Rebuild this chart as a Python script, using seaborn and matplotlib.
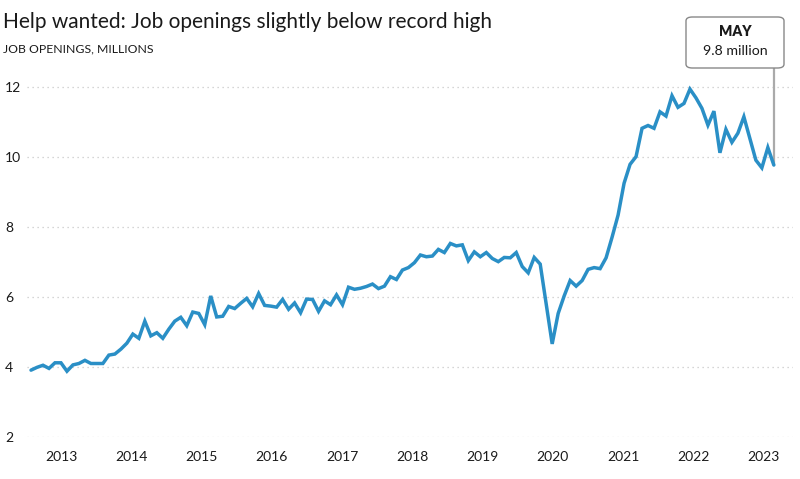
import numpy as np
import pandas as pd
import matplotlib
matplotlib.use("Agg")
import matplotlib.pyplot as plt
from matplotlib.patches import FancyBboxPatch
import seaborn as sns

# job openings, millions, monthly Jan 2013 .. May 2023
openings = [
    3.91, 3.99, 4.05, 3.96, 4.12, 4.12, 3.88, 4.06, 4.10, 4.19, 4.10, 4.10,
    4.10, 4.34, 4.37, 4.51, 4.68, 4.94, 4.82, 5.31, 4.89, 4.98, 4.82, 5.08,
    5.31, 5.42, 5.18, 5.57, 5.53, 5.21, 6.03, 5.43, 5.45, 5.73, 5.67, 5.82,
    5.96, 5.72, 6.10, 5.76, 5.74, 5.71, 5.93, 5.65, 5.83, 5.55, 5.94, 5.93,
    5.59, 5.89, 5.78, 6.06, 5.78, 6.28, 6.22, 6.25, 6.30, 6.37, 6.24, 6.31,
    6.58, 6.50, 6.77, 6.84, 6.98, 7.20, 7.15, 7.17, 7.36, 7.27, 7.53, 7.46,
    7.49, 7.04, 7.29, 7.15, 7.27, 7.10, 7.01, 7.13, 7.12, 7.27, 6.87, 6.69,
    7.13, 6.94, 5.80, 4.66, 5.53, 6.03, 6.47, 6.31, 6.47, 6.79, 6.84, 6.81,
    7.12, 7.71, 8.34, 9.25, 9.79, 10.01, 10.82, 10.90, 10.82, 11.29, 11.17, 11.75,
    11.42, 11.53, 11.94, 11.69, 11.39, 10.91, 11.31, 10.12, 10.79, 10.42, 10.68, 11.15,
    10.53, 9.91, 9.69, 10.27, 9.77,
]
year_labels = ["2013", "2014", "2015", "2016", "2017", "2018",
               "2019", "2020", "2021", "2022", "2023"]
y_ticks = [2, 4, 6, 8, 10, 12]
last_label = "MAY"
last_value_text = "9.8 million"

title = "Help wanted: Job openings slightly below record high"
subtitle = "JOB OPENINGS, MILLIONS"

LINE = "#2a8fc6"
TEXT = "#1a1a1a"

df = pd.DataFrame({
    "month": pd.date_range("2013-01-01", periods=len(openings), freq="MS"),
    "openings": openings,
})
df["i"] = np.arange(len(df))

sns.set_theme(style="white")
plt.rcParams["font.family"] = ["Lato", "DejaVu Sans"]

fig = plt.figure(figsize=(8, 4.79), dpi=100)
ax = fig.add_axes([27 / 800, 42 / 479, 766 / 800, 371 / 479])

sns.lineplot(data=df, x="i", y="openings", ax=ax, color=LINE, linewidth=2.5,
             solid_joinstyle="miter")

ymin, ymax = 2, 12.6
ax.set_xlim(-0.67, 127.2)
ax.set_ylim(ymin, ymax)

ax.set_yticks(y_ticks)
ax.set_yticklabels([str(t) for t in y_ticks], ha="left")
ax.tick_params(axis="y", length=0, pad=15.8, labelsize=10, labelcolor=TEXT)
ax.set_xticks(np.linspace(5.0, 122.3, len(year_labels)))
ax.set_xticklabels(year_labels)
ax.tick_params(axis="x", length=0, pad=10, labelsize=10, labelcolor=TEXT)
ax.set_xlabel("")
ax.set_ylabel("")

ax.grid(axis="y", linestyle=(0, (1, 3)), color="#c8c8c8", linewidth=0.9)
ax.grid(axis="x", visible=False)
for s in ax.spines.values():
    s.set_visible(False)

# connector from the last point up to the callout box
last_i = df["i"].iloc[-1]
last_v = df["openings"].iloc[-1]
ax.axvline(last_i, ymin=(last_v - ymin) / (ymax - ymin), ymax=1.0,
           color="#aaaaaa", linewidth=1.6, zorder=1)

fig.text(3 / 800, 1 - 22 / 479, title, fontsize=15, color=TEXT, va="center")
fig.text(3 / 800, 1 - 49 / 479, subtitle, fontsize=8.8, color=TEXT, va="center")

box = FancyBboxPatch((686 / 800, 1 - 68 / 479), 98 / 800, 51 / 479,
                     boxstyle="round,pad=0,rounding_size=0.008",
                     transform=fig.transFigure, facecolor="white",
                     edgecolor="#888888", linewidth=1.0)
fig.patches.append(box)
fig.text(735 / 800, 1 - 32 / 479, last_label, fontsize=10, fontweight="heavy",
         color=TEXT, ha="center", va="center")
fig.text(735 / 800, 1 - 51 / 479, last_value_text, fontsize=10.2, color=TEXT,
         ha="center", va="center")

fig.savefig("out.png", dpi=100)
